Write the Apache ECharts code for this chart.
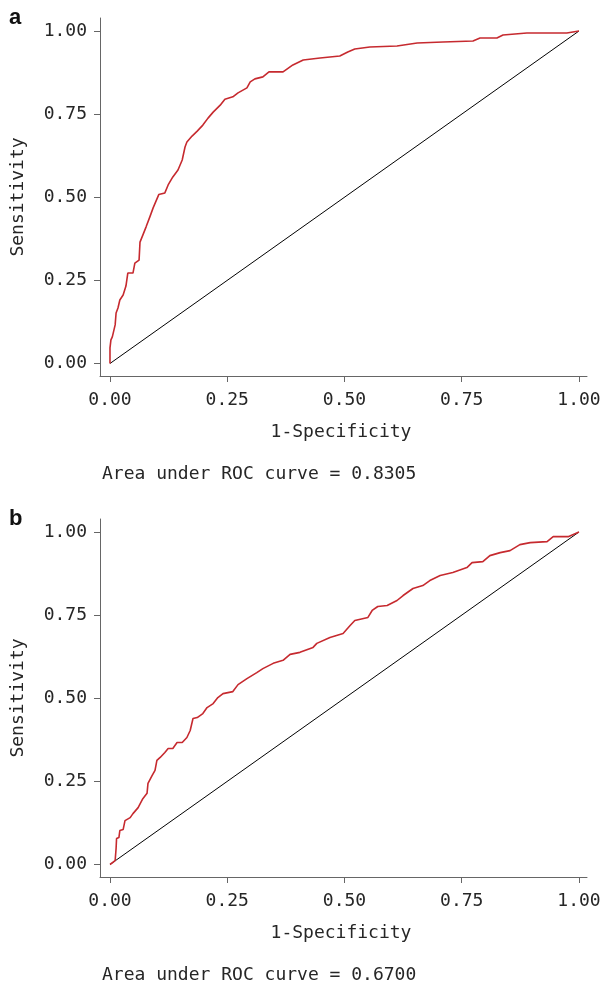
<!DOCTYPE html>
<html><head><meta charset="utf-8">
<script src="https://cdn.jsdelivr.net/npm/echarts@6/dist/echarts.min.js"></script>
<style>html,body{margin:0;padding:0;background:#fff}#c{width:606px;height:981px}</style>
</head><body><div id="c"></div>
<script>
// Tick labels
const tickValues = [0, 0.25, 0.5, 0.75, 1];
// Reference (chance) line
const diagonal = [[0, 0], [1, 1]];
// Panel a ROC curve: [1-specificity, sensitivity]
const rocA = [
[0,0],[0,0.047],[0.002,0.071],[0.005,0.080],[0.011,0.116],[0.013,0.152],[0.017,0.167],[0.021,0.191],
[0.028,0.206],[0.034,0.233],[0.038,0.272],[0.049,0.272],[0.053,0.302],[0.062,0.311],[0.064,0.365],
[0.070,0.386],[0.077,0.411],[0.085,0.441],[0.092,0.468],[0.104,0.508],[0.117,0.513],[0.124,0.537],
[0.134,0.561],[0.145,0.582],[0.154,0.612],[0.160,0.651],[0.164,0.666],[0.175,0.684],[0.186,0.699],
[0.198,0.717],[0.209,0.738],[0.220,0.756],[0.235,0.777],[0.245,0.795],[0.262,0.802],[0.273,0.814],
[0.292,0.829],[0.299,0.847],[0.309,0.856],[0.326,0.862],[0.339,0.877],[0.369,0.877],[0.390,0.898],
[0.412,0.913],[0.448,0.919],[0.490,0.925],[0.507,0.937],[0.522,0.946],[0.554,0.952],[0.612,0.955],
[0.655,0.964],[0.710,0.967],[0.774,0.970],[0.789,0.979],[0.825,0.979],[0.838,0.988],[0.889,0.994],
[0.974,0.994],[1,1]
];
// Panel b ROC curve
const rocB = [
[0,0],[0.011,0.012],[0.013,0.048],[0.014,0.078],[0.019,0.081],[0.021,0.102],[0.028,0.105],[0.032,0.132],
[0.043,0.141],[0.049,0.153],[0.060,0.171],[0.070,0.198],[0.079,0.214],[0.081,0.244],[0.090,0.268],
[0.096,0.283],[0.100,0.313],[0.107,0.322],[0.117,0.337],[0.124,0.349],[0.134,0.349],[0.143,0.367],
[0.154,0.367],[0.164,0.382],[0.171,0.403],[0.177,0.439],[0.186,0.442],[0.198,0.454],[0.207,0.472],
[0.220,0.484],[0.230,0.502],[0.241,0.514],[0.262,0.520],[0.273,0.541],[0.292,0.559],[0.313,0.577],
[0.326,0.589],[0.348,0.605],[0.369,0.614],[0.384,0.632],[0.405,0.638],[0.433,0.653],[0.441,0.665],
[0.469,0.683],[0.497,0.695],[0.512,0.719],[0.522,0.734],[0.550,0.743],[0.559,0.764],[0.571,0.776],
[0.591,0.779],[0.612,0.794],[0.625,0.809],[0.646,0.830],[0.667,0.839],[0.682,0.854],[0.704,0.869],
[0.731,0.878],[0.761,0.893],[0.772,0.908],[0.795,0.911],[0.810,0.929],[0.832,0.938],[0.853,0.944],
[0.874,0.962],[0.896,0.968],[0.932,0.971],[0.945,0.986],[0.977,0.986],[1,1]
];
const panelLetters = ['a', 'b'];
const xTitle = '1-Specificity';
const yTitle = 'Sensitivity';
const aucTexts = ['Area under ROC curve = 0.8305', 'Area under ROC curve = 0.6700'];

const MONO = '"DejaVu Sans Mono", "Liberation Mono", monospace';
const axisCol = '#666';
const textCol = '#262626';

function xAxisOf(gi) {
  return {
    type: 'value', gridIndex: gi, min: -0.0213, max: 1.0171,
    axisLine: {show: true, onZero: false, lineStyle: {color: axisCol, width: 1}},
    axisTick: {show: true, length: 6, customValues: tickValues, lineStyle: {color: axisCol}},
    axisLabel: {customValues: tickValues, formatter: v => v.toFixed(2), margin: 15,
      fontFamily: MONO, fontSize: 18, color: textCol},
    splitLine: {show: false}
  };
}
function yAxisOf(gi) {
  return {
    type: 'value', gridIndex: gi, min: -0.0376, max: 1.0391,
    axisLine: {show: true, onZero: false, lineStyle: {color: axisCol, width: 1}},
    axisTick: {show: true, length: 6, customValues: tickValues, lineStyle: {color: axisCol}},
    axisLabel: {customValues: tickValues, formatter: v => v.toFixed(2), margin: 13,
      fontFamily: MONO, fontSize: 18, color: textCol},
    splitLine: {show: false}
  };
}
const tops = [18, 519];
const graphics = [];
tops.forEach((t, i) => {
  const off = t - 18;
  graphics.push({type: 'text', x: 9, y: 7 + off, style: {text: panelLetters[i],
    font: 'bold 22px "Liberation Sans", Arial, sans-serif', fill: '#111'}});
  graphics.push({type: 'text', x: 18, y: 197 + off, rotation: Math.PI / 2,
    style: {text: yTitle, font: '18px ' + MONO, fill: textCol, align: 'center', verticalAlign: 'middle'}});
  graphics.push({type: 'text', x: 341, y: 432 + off,
    style: {text: xTitle, font: '18px ' + MONO, fill: textCol, align: 'center', verticalAlign: 'middle'}});
  graphics.push({type: 'text', x: 102, y: 474 + off,
    style: {text: aucTexts[i], font: '18px ' + MONO, fill: textCol, align: 'left', verticalAlign: 'middle'}});
});

const chart = echarts.init(document.getElementById('c'), null, {renderer: 'canvas'});
chart.setOption({
  animation: false,
  backgroundColor: '#fff',
  grid: tops.map(t => ({left: 100, top: t, width: 487, height: 358})),
  xAxis: [xAxisOf(0), xAxisOf(1)],
  yAxis: [yAxisOf(0), yAxisOf(1)],
  graphic: graphics,
  series: [
    {type: 'line', xAxisIndex: 0, yAxisIndex: 0, data: diagonal, showSymbol: false, lineStyle: {color: '#000', width: 1}},
    {type: 'line', xAxisIndex: 0, yAxisIndex: 0, data: rocA, showSymbol: false, lineStyle: {color: '#c62a2f', width: 1.6}},
    {type: 'line', xAxisIndex: 1, yAxisIndex: 1, data: diagonal, showSymbol: false, lineStyle: {color: '#000', width: 1}},
    {type: 'line', xAxisIndex: 1, yAxisIndex: 1, data: rocB, showSymbol: false, lineStyle: {color: '#c62a2f', width: 1.6}}
  ]
});
</script></body></html>
